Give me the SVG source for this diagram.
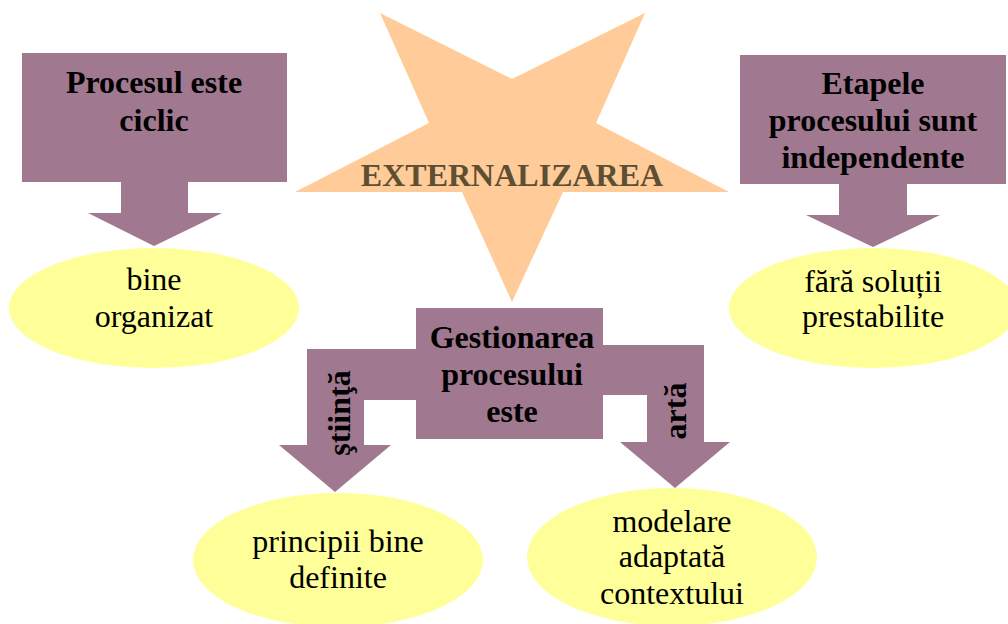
<svg xmlns="http://www.w3.org/2000/svg" width="1008" height="624" viewBox="0 0 1008 624">
  <style>
    .callout { fill: #A0788F; }
    .oval { fill: #FFFF99; }
    .star { fill: #FFCC99; }
    .bold { font-family: "Liberation Serif", "Times New Roman", serif; font-weight: bold; font-size: 32px; fill: #000; text-anchor: middle; }
    .plain { font-family: "Liberation Serif", "Times New Roman", serif; font-size: 32px; fill: #000; text-anchor: middle; }
    .title { font-family: "Liberation Serif", "Times New Roman", serif; font-weight: bold; font-size: 32px; fill: #5E4F33; text-anchor: middle; }
  </style>

  <rect width="1008" height="624" fill="#FFFFFF"/>

  <!-- outcome ovals -->
  <g id="oval-bine-organizat">
    <ellipse class="oval" cx="154" cy="308" rx="145" ry="60"/>
    <text class="plain" x="154" y="290">bine</text>
    <text class="plain" x="154" y="327">organizat</text>
  </g>
  <g id="oval-fara-solutii">
    <ellipse class="oval" cx="873" cy="308" rx="144" ry="60"/>
    <text class="plain" x="873" y="292">fără soluții</text>
    <text class="plain" x="873" y="327">prestabilite</text>
  </g>
  <g id="oval-principii">
    <ellipse class="oval" cx="338" cy="560" rx="145" ry="67"/>
    <text class="plain" x="338" y="552">principii bine</text>
    <text class="plain" x="338" y="588">definite</text>
  </g>
  <g id="oval-modelare">
    <ellipse class="oval" cx="672" cy="557" rx="145" ry="69"/>
    <text class="plain" x="672" y="532">modelare</text>
    <text class="plain" x="672" y="567">adaptată</text>
    <text class="plain" x="672" y="604">contextului</text>
  </g>

  <!-- central star -->
  <g id="star-externalizarea">
    <polygon class="star" points="380,13 512,79 645,13 596,123 729,192 563,192 512,302 462,192 295,192 429,123"/>
    <text class="title" x="512" y="186">EXTERNALIZAREA</text>
  </g>

  <!-- down-arrow callouts -->
  <g id="callout-ciclic">
    <path class="callout" d="M22,53 H287 V182 H188 V213 H222 L154,246 L88,213 H121 V182 H22 Z"/>
    <text class="bold" x="154" y="93">Procesul este</text>
    <text class="bold" x="154" y="131">ciclic</text>
  </g>
  <g id="callout-etapele">
    <path class="callout" d="M740,55 H1006 V184 H907 V215 H940 L873,247 L806,215 H839 V184 H740 Z"/>
    <text class="bold" x="873" y="94">Etapele</text>
    <text class="bold" x="873" y="131">procesului sunt</text>
    <text class="bold" x="873" y="168">independente</text>
  </g>
  <g id="callout-gestionarea">
    <path class="callout" d="M416,308 H603 V345 H704 V442 H730 L675,488 L620,442 H647 V395 H603 V439 H416 V400 H364 V445 H391 L335,492 L279,445 H307 V349 H416 Z"/>
    <text class="bold" x="512" y="348">Gestionarea</text>
    <text class="bold" x="512" y="385">procesului</text>
    <text class="bold" x="512" y="422">este</text>
  </g>

  <!-- branch labels inside the two arrows -->
  <g id="connector-labels">
    <text class="bold" font-size="31" transform="translate(350,413) rotate(-90)">ştiinţă</text>
    <text class="bold" font-size="31" transform="translate(686,411) rotate(-90)">artă</text>
  </g>
</svg>
